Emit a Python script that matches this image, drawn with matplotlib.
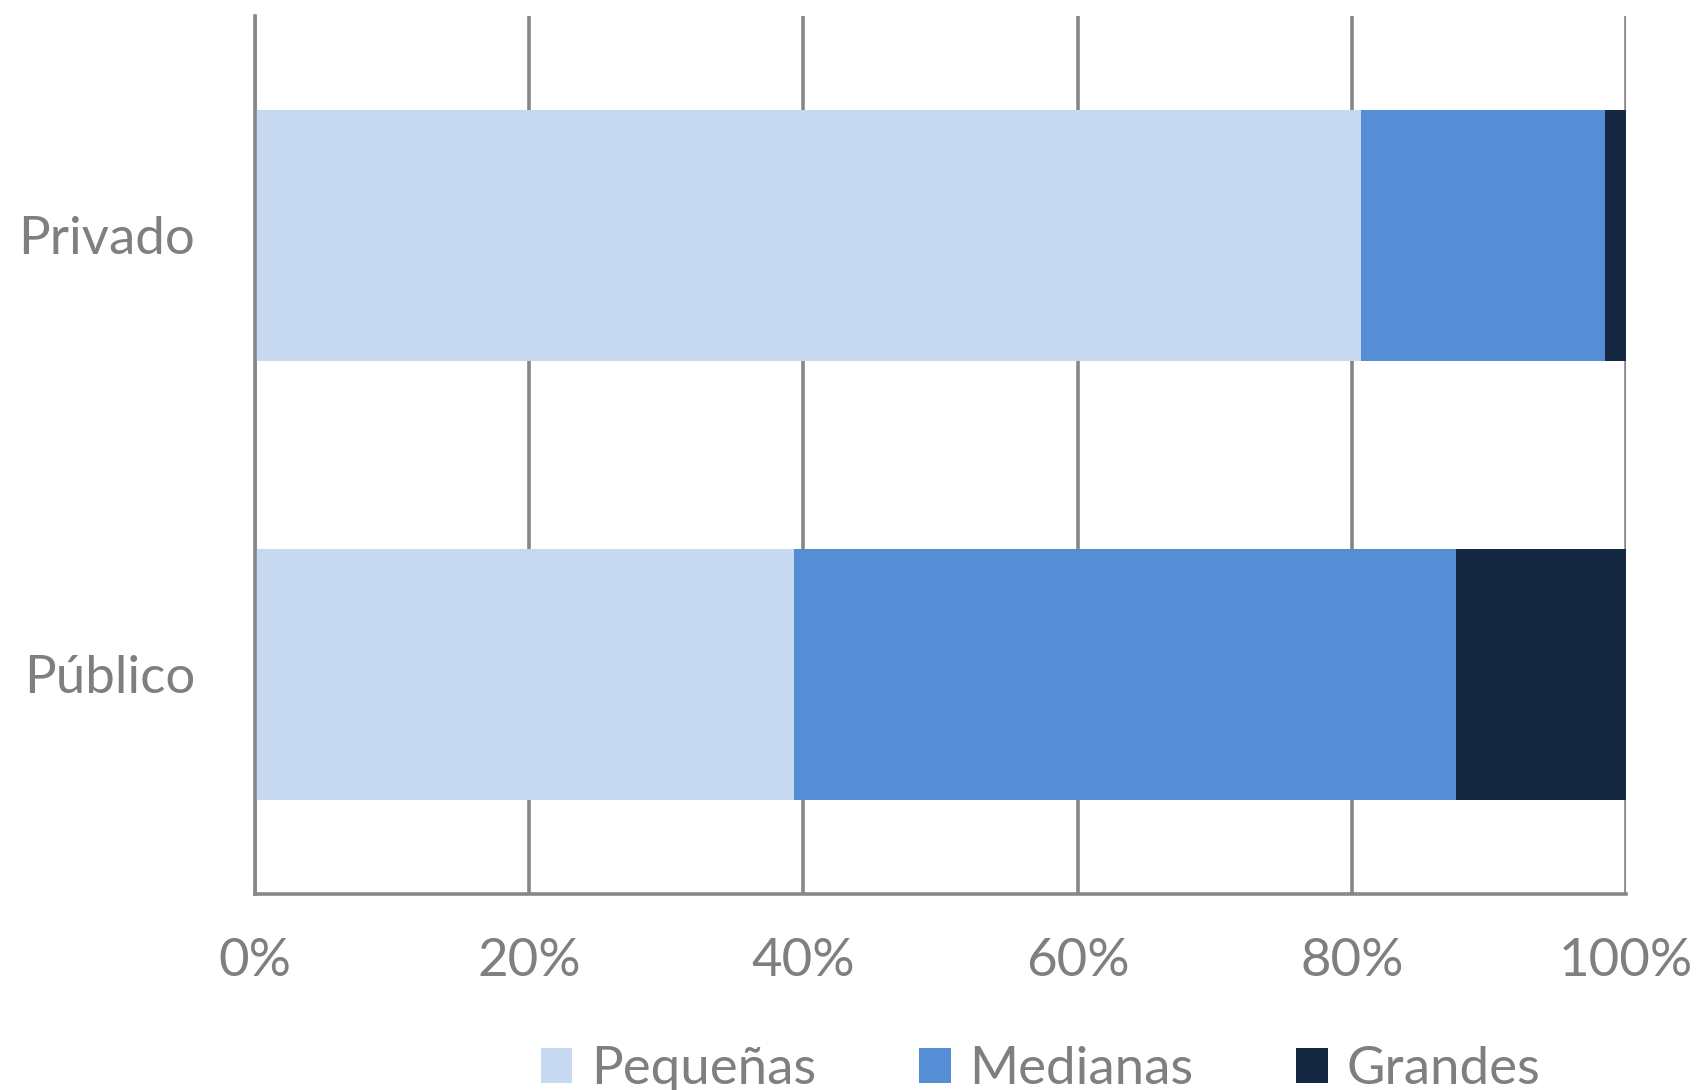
"""
Stacked horizontal bar chart: share of companies by size, private vs public.

Output:
    out.png
"""

import matplotlib.pyplot as plt
from matplotlib.patches import Patch
from matplotlib.ticker import PercentFormatter

# Data (shares in %)
sectors = ['Público', 'Privado']
series_names = ['Pequeñas', 'Medianas', 'Grandes']
pequenas = [39.3, 80.7]
medianas = [48.3, 17.8]
grandes = [12.4, 1.5]
x_ticks = [0, 20, 40, 60, 80, 100]

colors = ['#C6D9F0', '#558ED5', '#142841']
grey = '#878787'
text_grey = '#7F7F7F'

plt.rcParams['font.family'] = ['Lato', 'DejaVu Sans']

fig = plt.figure(figsize=(17, 10.9), dpi=100)
ax = fig.add_axes([0.15, 0.18, 0.8065, 0.8055])

left = [0, 0]
for name, vals, col in zip(series_names, [pequenas, medianas, grandes], colors):
    ax.barh(sectors, vals, left=left, height=0.571, color=col, label=name,
            zorder=3)
    left = [a + b for a, b in zip(left, vals)]

ax.set_xlim(0, 100)
ax.set_ylim(-0.5, 1.5)
ax.set_xticks(x_ticks)
ax.xaxis.set_major_formatter(PercentFormatter(decimals=0))

# Gridlines and spines
ax.grid(axis='x', color=grey, linewidth=2.6, zorder=1)
ax.grid(axis='y', visible=False)
for side in ['top', 'right']:
    ax.spines[side].set_visible(False)
for side in ['left', 'bottom']:
    ax.spines[side].set_color(grey)
    ax.spines[side].set_linewidth(2.6)
    ax.spines[side].set_zorder(4)

ax.tick_params(axis='x', length=0, pad=32, labelsize=38, labelcolor=text_grey)
ax.tick_params(axis='y', length=0, pad=43, labelsize=38, labelcolor=text_grey)

# Legend
handles = [Patch(facecolor=c, edgecolor='none') for c in colors]
leg = fig.legend(handles, series_names, loc='center', ncol=3,
                 bbox_to_anchor=(0.612, 0.019), frameon=False, fontsize=38,
                 handlelength=0.6, handleheight=0.65, handletextpad=0.35,
                 columnspacing=1.95, borderpad=0)
for t in leg.get_texts():
    t.set_color(text_grey)

fig.savefig('out.png', dpi=100, facecolor='white')
plt.close(fig)
